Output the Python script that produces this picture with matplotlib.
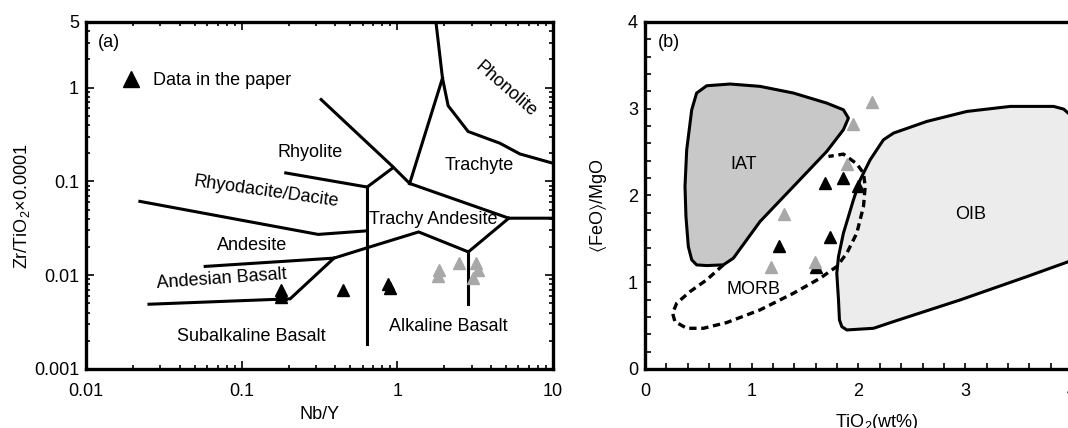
import matplotlib
matplotlib.use('Agg')
import matplotlib.pyplot as plt
from matplotlib.lines import Line2D

plt.rcParams['font.family'] = ['Liberation Sans', 'DejaVu Sans']
plt.rcParams['mathtext.default'] = 'regular'
plt.rcParams['font.size'] = 13

# ---- panel (a): Nb/Y vs Zr/TiO2 (Winchester & Floyd) ----
# field boundaries, each as (x list, y list)
phonolite_trachyte = ([1.77, 1.95, 2.12, 2.85, 4.56, 6.13, 10.0],
                      [5.0, 1.26, 0.64, 0.34, 0.255, 0.196, 0.156])
trachyte_left = ([1.95, 1.2], [1.26, 0.095])
trachyte_bottom = ([1.2, 5.2, 10.0], [0.095, 0.0405, 0.0405])
rhyolite_diag = ([0.324, 0.925, 1.2], [0.745, 0.146, 0.095])
rhyolite_short = ([0.64, 0.94], [0.087, 0.14])
rhyolite_lower = ([0.192, 0.64], [0.123, 0.087])
vertical_line = ([0.64, 0.64], [0.087, 0.00185])
dacite_lower = ([0.0222, 0.31, 0.64], [0.0612, 0.0272, 0.0297])
andesite_lower = ([0.0583, 0.392, 0.64, 1.37, 2.86, 5.2],
                  [0.0124, 0.0152, 0.0196, 0.0289, 0.0177, 0.0405])
alk_basalt_line = ([2.86, 2.86], [0.0177, 0.0049])
and_basalt_lower = ([0.0254, 0.205, 0.392], [0.0049, 0.0056, 0.0152])
boundaries_a = [phonolite_trachyte, trachyte_left, trachyte_bottom, rhyolite_diag,
                rhyolite_short, rhyolite_lower, vertical_line, dacite_lower,
                andesite_lower, alk_basalt_line, and_basalt_lower]

black_a_x = [0.18, 0.18, 0.18, 0.45, 0.87, 0.90]
black_a_y = [0.0069, 0.0058, 0.0063, 0.0069, 0.0081, 0.0073]
gray_a_x = [1.85, 1.82, 2.50, 3.20, 3.30, 3.05]
gray_a_y = [0.0113, 0.0097, 0.0134, 0.0134, 0.0113, 0.0093]

labels_a = ['Phonolite', 'Trachyte', 'Rhyolite', 'Rhyodacite/Dacite', 'Trachy Andesite',
            'Andesite', 'Andesian Basalt', 'Subalkaline Basalt', 'Alkaline Basalt']
labels_a_x = [4.95, 3.34, 0.277, 0.1435, 1.69, 0.1164, 0.0745, 0.1153, 2.14]
labels_a_y = [0.95, 0.146, 0.205, 0.077, 0.0394, 0.0208, 0.0091, 0.00223, 0.00282]
labels_a_rot = [-41, 0, 0, -8, 0, 0, 4, 0, 0]

# ---- panel (b): TiO2 vs FeO/MgO ----
iat_x = [0.578, 0.797, 1.078, 1.391, 1.703, 1.859, 1.906, 1.859, 1.703, 1.391, 1.078,
         0.828, 0.734, 0.578, 0.484, 0.438, 0.406, 0.384, 0.375, 0.391, 0.438, 0.484]
iat_y = [3.265, 3.285, 3.258, 3.181, 3.065, 2.988, 2.892, 2.758, 2.508, 2.104, 1.700,
         1.277, 1.200, 1.192, 1.200, 1.258, 1.412, 1.758, 2.104, 2.527, 2.988, 3.181]
oib_x = [2.234, 2.328, 2.641, 3.016, 3.422, 3.828, 3.922, 3.984, 4.1, 4.1, 3.969, 3.578,
         2.953, 2.328, 2.141, 1.891, 1.844, 1.822, 1.813, 1.797, 1.813, 1.859, 1.953,
         2.016, 2.109]
oib_y = [2.642, 2.719, 2.854, 2.969, 3.027, 3.027, 2.996, 2.93, 2.8, 1.22, 1.238, 1.065,
         0.796, 0.546, 0.469, 0.450, 0.488, 0.565, 0.796, 1.104, 1.296, 1.565, 1.950,
         2.180, 2.410]
morb_x = [0.734, 0.578, 0.422, 0.297, 0.259, 0.281, 0.391, 0.547, 0.766, 1.078, 1.391,
          1.641, 1.797, 1.891, 1.984, 2.047, 2.063, 2.047, 1.984, 1.859, 1.719]
morb_y = [1.200, 1.027, 0.892, 0.758, 0.642, 0.546, 0.469, 0.469, 0.535, 0.681, 0.873,
          1.046, 1.181, 1.335, 1.565, 1.873, 2.104, 2.258, 2.365, 2.477, 2.450]

black_b_x = [1.256, 1.688, 1.853, 1.994, 1.734, 1.603]
black_b_y = [1.412, 2.142, 2.200, 2.104, 1.519, 1.181]
gray_b_x = [2.131, 1.953, 1.897, 1.303, 1.181, 1.594]
gray_b_y = [3.073, 2.827, 2.362, 1.785, 1.181, 1.238]

labels_b = ['IAT', 'OIB', 'MORB']
labels_b_x = [0.922, 3.047, 1.016]
labels_b_y = [2.354, 1.777, 0.919]

GRAY = '#a8a8a8'
fig = plt.figure(figsize=(10.68, 4.28), dpi=100)

# panel (a)
ax = fig.add_axes([0.0805, 0.1379, 0.4373, 0.8107])
ax.set_xscale('log')
ax.set_yscale('log')
ax.set_xlim(0.01, 10)
ax.set_ylim(0.001, 5)
for bx, by in boundaries_a:
    ax.plot(bx, by, color='black', lw=2.2, solid_joinstyle='miter')
ax.plot(black_a_x, black_a_y, '^', color='black', ms=9, ls='none')
ax.plot(gray_a_x, gray_a_y, '^', color=GRAY, ms=9, ls='none')
for t, x, y, r in zip(labels_a, labels_a_x, labels_a_y, labels_a_rot):
    ax.text(x, y, t, ha='center', va='center', rotation=r, rotation_mode='anchor')
ax.text(0.025, 0.94, '(a)', transform=ax.transAxes, ha='left', va='center')
handle = Line2D([], [], marker='^', color='black', ls='none', ms=9)
ax.legend([handle], ['Data in the paper'], loc='center left', bbox_to_anchor=(0.078, 0.83),
          frameon=False, handlelength=1, handletextpad=0.67, borderpad=0,
          borderaxespad=0, markerscale=1.35, fontsize=13)
ax.set_xticks([0.01, 0.1, 1, 10])
ax.set_xticklabels(['0.01', '0.1', '1', '10'])
ax.set_yticks([0.001, 0.01, 0.1, 1, 5])
ax.set_yticklabels(['0.001', '0.01', '0.1', '1', '5'])
ax.tick_params(which='both', direction='in', top=True, right=True, width=1.2)
ax.tick_params(which='major', length=6)
ax.tick_params(which='minor', length=3)
ax.tick_params(axis='x', which='major', pad=10)
ax.tick_params(axis='y', which='major', pad=5)
for s in ax.spines.values():
    s.set_linewidth(2.4)
ax.set_xlabel('Nb/Y', va='top')
ax.xaxis.set_label_coords(0.5, -0.107)
ax.set_ylabel('Zr/TiO$_2$×0.0001', va='bottom')
ax.yaxis.set_label_coords(-0.116, 0.47)

# panel (b)
bx = fig.add_axes([0.6039, 0.1379, 0.3998, 0.8107])
bx.set_xlim(0, 4)
bx.set_ylim(0, 4)
bx.fill(oib_x, oib_y, facecolor='#ececec', edgecolor='black', lw=2.2, joinstyle='round')
bx.fill(iat_x, iat_y, facecolor='#c8c8c8', edgecolor='black', lw=2.2, joinstyle='round')
bx.plot(morb_x, morb_y, color='black', lw=2.4, ls=(0, (2.2, 1.4)))
bx.plot(black_b_x, black_b_y, '^', color='black', ms=9, ls='none')
bx.plot(gray_b_x, gray_b_y, '^', color=GRAY, ms=9, ls='none')
for t, x, y in zip(labels_b, labels_b_x, labels_b_y):
    bx.text(x, y, t, ha='center', va='center')
bx.text(0.031, 0.94, '(b)', transform=bx.transAxes, ha='left', va='center')
bx.set_xticks([0, 1, 2, 3, 4])
bx.set_yticks([0, 1, 2, 3, 4])
bx.set_xticks([i * 0.2 for i in range(21)], minor=True)
bx.set_yticks([i * 0.2 for i in range(21)], minor=True)
bx.tick_params(which='both', direction='in', length=4, width=1.2)
bx.tick_params(axis='x', which='major', pad=10)
bx.tick_params(axis='y', which='major', pad=5)
for s in bx.spines.values():
    s.set_linewidth(2.4)
bx.set_xlabel('TiO$_2$(wt%)', va='top')
bx.xaxis.set_label_coords(0.543, -0.124)
bx.set_ylabel(r'$\langle$FeO$\rangle$/MgO', va='bottom')
bx.yaxis.set_label_coords(-0.084, 0.47)

fig.savefig('out.png', dpi=100)
